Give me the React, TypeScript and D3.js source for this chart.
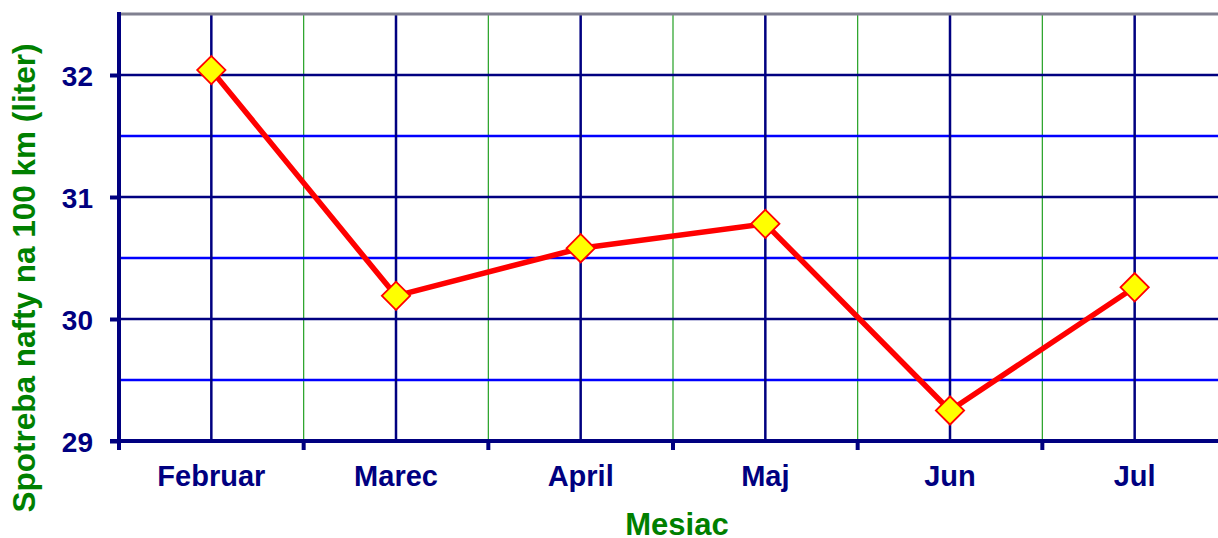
import React, { useEffect, useRef } from "react";
import { select, scaleBand, scaleLinear, axisLeft, axisBottom, line, symbol, symbolSquare } from "d3";

const months = ["Februar", "Marec", "April", "Maj", "Jun", "Jul"];
const consumption = [32.04, 30.19, 30.58, 30.78, 29.25, 30.26];
const yTicks = [29, 30, 31, 32];
const yHalfTicks = [29.5, 30.5, 31.5];

const NAVY = "#000080";
const GREEN = "#008000";
const FONT = "'Liberation Sans', Arial, sans-serif";

const App = () => {
  const svgRef = useRef<SVGSVGElement>(null);

  useEffect(() => {
    const svg = select(svgRef.current);
    svg.selectAll("*").remove();

    const left = 119;
    const top = 14;
    const bottom = 441;
    const right = 1227;

    const x = scaleBand().domain(months).range([left, right]).padding(0);
    const y = scaleLinear().domain([29, 32.5]).range([bottom, top]);
    const bw = x.bandwidth();

    const grid = svg.append("g");

    // minor vertical lines (green) at band edges
    grid
      .selectAll(".vminor")
      .data(months.slice(1))
      .join("line")
      .attr("x1", (d) => x(d)!)
      .attr("x2", (d) => x(d)!)
      .attr("y1", top)
      .attr("y2", bottom)
      .attr("stroke", "#22a022")
      .attr("stroke-width", 1.2);

    // half-unit horizontal lines (blue)
    grid
      .selectAll(".hminor")
      .data(yHalfTicks)
      .join("line")
      .attr("x1", left)
      .attr("x2", right)
      .attr("y1", (d) => y(d))
      .attr("y2", (d) => y(d))
      .attr("stroke", "#0000ff")
      .attr("stroke-width", 2.5);

    // major horizontal lines
    grid
      .selectAll(".hmajor")
      .data(yTicks.slice(1))
      .join("line")
      .attr("x1", left)
      .attr("x2", right)
      .attr("y1", (d) => y(d))
      .attr("y2", (d) => y(d))
      .attr("stroke", NAVY)
      .attr("stroke-width", 2.5);

    // major vertical lines at category centers
    grid
      .selectAll(".vmajor")
      .data(months)
      .join("line")
      .attr("x1", (d) => x(d)! + bw / 2)
      .attr("x2", (d) => x(d)! + bw / 2)
      .attr("y1", top)
      .attr("y2", bottom)
      .attr("stroke", NAVY)
      .attr("stroke-width", 2.5);

    // top border
    svg
      .append("line")
      .attr("x1", left)
      .attr("x2", right)
      .attr("y1", top)
      .attr("y2", top)
      .attr("stroke", "#808090")
      .attr("stroke-width", 3);

    // y axis
    const yAxis = axisLeft(y).tickValues(yTicks).tickSize(9).tickPadding(17).tickFormat((d) => String(d));
    const gy = svg.append("g").attr("transform", `translate(${left},0)`).call(yAxis);
    gy.select(".domain").attr("stroke", NAVY).attr("stroke-width", 4).attr("d", `M0,${top - 2}V${bottom + 9}`);
    gy.selectAll(".tick line").attr("stroke", NAVY).attr("stroke-width", 4);
    gy.selectAll(".tick text")
      .attr("fill", NAVY)
      .attr("font-family", FONT)
      .attr("font-weight", "bold")
      .attr("font-size", 28)
      .attr("dy", "0.36em");

    // x axis
    const xAxis = axisBottom(x).tickSize(0);
    const gx = svg.append("g").attr("transform", `translate(0,${bottom})`).call(xAxis);
    gx.select(".domain").attr("stroke", NAVY).attr("stroke-width", 4).attr("d", `M${left - 9},0H${right}`);
    gx.selectAll(".tick text")
      .attr("fill", NAVY)
      .attr("font-family", FONT)
      .attr("font-weight", "bold")
      .attr("font-size", 29)
      .attr("y", 45)
      .attr("dy", 0);
    gx.selectAll(".edge")
      .data(months)
      .join("line")
      .attr("class", "edge")
      .attr("x1", (d) => x(d)!)
      .attr("x2", (d) => x(d)!)
      .attr("y1", 0)
      .attr("y2", 9)
      .attr("stroke", NAVY)
      .attr("stroke-width", 4);

    // data line
    const pts = months.map((m, i) => [x(m)! + bw / 2, y(consumption[i])] as [number, number]);
    svg
      .append("path")
      .datum(pts)
      .attr("d", line())
      .attr("fill", "none")
      .attr("stroke", "#ff0000")
      .attr("stroke-width", 5.5)
      .attr("stroke-linejoin", "round");

    // markers: square diamonds
    svg
      .selectAll(".marker")
      .data(pts)
      .join("path")
      .attr("class", "marker")
      .attr("transform", (d) => `translate(${d[0]},${d[1]}) rotate(45)`)
      .attr("d", symbol().type(symbolSquare).size(400)())
      .attr("fill", "#ffff00")
      .attr("stroke", "#ff0000")
      .attr("stroke-width", 1.8);

    // axis titles
    svg
      .append("text")
      .attr("x", 677)
      .attr("y", 535)
      .attr("text-anchor", "middle")
      .attr("fill", GREEN)
      .attr("font-family", FONT)
      .attr("font-weight", "bold")
      .attr("font-size", 31)
      .text("Mesiac");

    svg
      .append("text")
      .attr("transform", "translate(35,278) rotate(-90)")
      .attr("text-anchor", "middle")
      .attr("fill", GREEN)
      .attr("font-family", FONT)
      .attr("font-weight", "bold")
      .attr("font-size", 31.5)
      .text("Spotreba nafty na 100 km (liter)");
  }, []);

  return (
    <svg
      ref={svgRef}
      width={1218}
      height={538}
      style={{ position: "absolute", left: 0, top: 0, background: "#fff" }}
    />
  );
};

export default App;
